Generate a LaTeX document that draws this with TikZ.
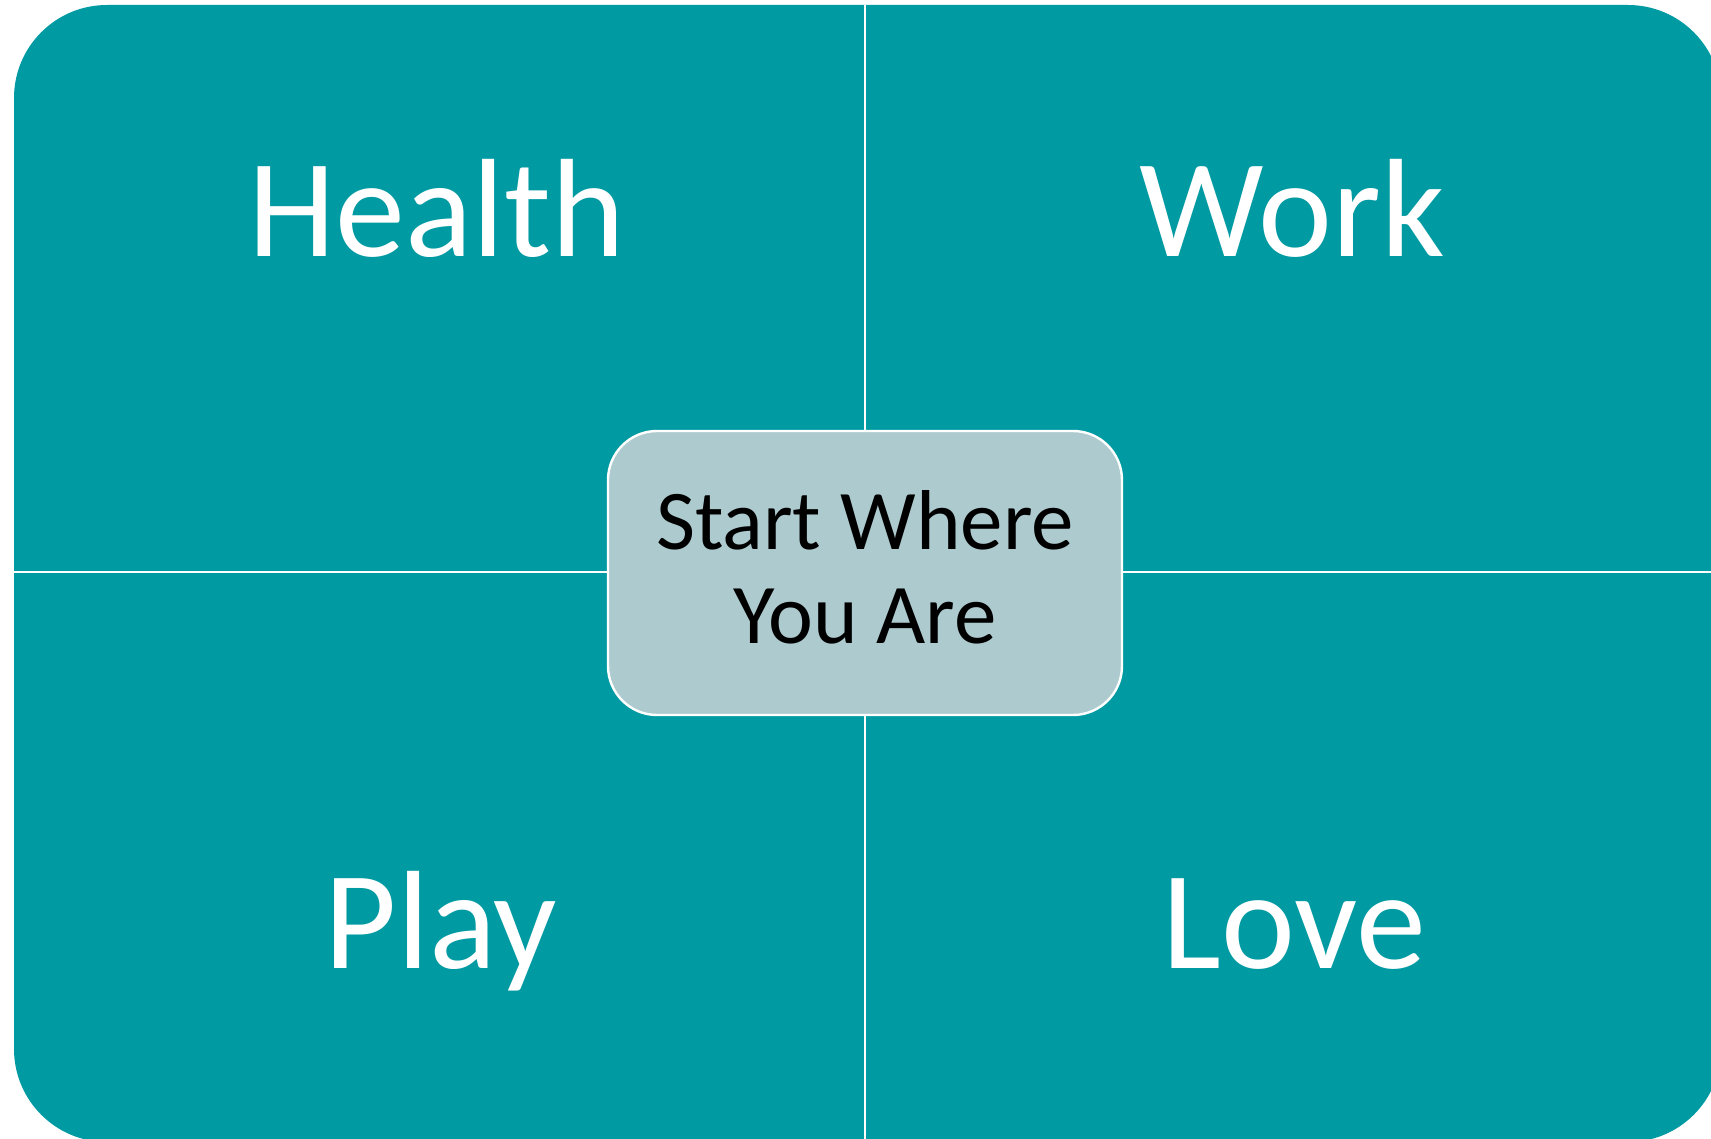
\documentclass[tikz,border=0pt]{standalone}
\usepackage{fontspec}
\setmainfont{Carlito}
\definecolor{teal1}{RGB}{0,154,162}
\definecolor{boxfill}{RGB}{173,203,207}
\begin{document}
\begin{tikzpicture}[x=1pt,y=-1pt,
  quad/.style={text=white,anchor=base,inner sep=0pt,font=\fontsize{140}{168}\selectfont},
  centerbox/.style={draw=white,line width=2.4pt,fill=boxfill,rounded corners=49pt,
     minimum width=514pt,minimum height=284pt,inner sep=0pt},
  centertext/.style={inner sep=0pt,align=center,
     font=\fontsize{85}{94}\selectfont,text=black},
  divider/.style={draw=white,line width=2.4pt}]
\useasboundingbox (0,0) rectangle (1711,1139);
\clip (0,0) rectangle (1711,1139);
\fill[teal1,rounded corners=93pt] (14,5) rectangle (1721,1142);
\coordinate (top) at (865,5);
\coordinate (bot) at (865,1142);
\coordinate (lft) at (14,572);
\coordinate (rgt) at (1721,572);
\draw[divider] (top) -- (bot);
\draw[divider] (lft) -- (rgt);
\node[quad] (health) at (437,257) {Health};
\node[quad] (work) at (1292,257) {Work};
\node[quad] (play) at (441,968) {Play};
\node[quad] (love) at (1294,968) {Love};
\node[centerbox] (center) at (865,573) {};
\node[centertext] (centerlabel) at ([yshift=6pt]center.center) {Start Where\\You Are};
\end{tikzpicture}
\end{document}
